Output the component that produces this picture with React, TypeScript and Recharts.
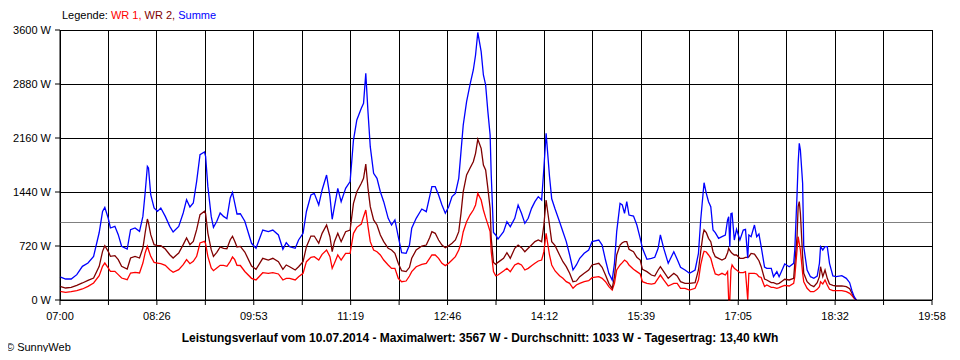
import { LineChart, Line, XAxis, YAxis, CartesianGrid, ReferenceLine } from "recharts"

// readings, roughly every 3-5 minutes
const times = [
  "07:00", "07:05", "07:10", "07:15", "07:20", "07:25", "07:30", "07:35", "07:38", "07:40",
  "07:43", "07:45", "07:49", "07:52", "07:55", "08:00", "08:03", "08:07", "08:11", "08:14",
  "08:16", "08:18", "08:19", "08:21", "08:24", "08:27", "08:30", "08:34", "08:38", "08:41",
  "08:46", "08:50", "08:53", "08:56", "08:59", "09:02", "09:05", "09:09", "09:10", "09:12",
  "09:15", "09:17", "09:20", "09:23", "09:26", "09:29", "09:32", "09:34", "09:36", "09:38",
  "09:41", "09:45", "09:51", "09:55", "10:01", "10:06", "10:10", "10:15", "10:19", "10:22",
  "10:25", "10:30", "10:33", "10:37", "10:40", "10:44", "10:47", "10:51", "10:54", "10:58",
  "11:01", "11:03", "11:05", "11:08", "11:11", "11:15", "11:19", "11:22", "11:25", "11:29",
  "11:31", "11:33", "11:35", "11:37", "11:40", "11:43", "11:46", "11:49", "11:53", "11:56",
  "11:59", "12:02", "12:05", "12:09", "12:12", "12:14", "12:18", "12:23", "12:27", "12:30",
  "12:32", "12:35", "12:38", "12:41", "12:44", "12:47", "12:50", "12:53", "12:56", "12:58",
  "13:00", "13:03", "13:06", "13:09", "13:11", "13:13", "13:16", "13:18", "13:20", "13:22",
  "13:24", "13:25", "13:27", "13:29", "13:31", "13:36", "13:39", "13:42", "13:46", "13:49",
  "13:52", "13:55", "13:58", "14:01", "14:04", "14:07", "14:10", "14:12", "14:14", "14:17",
  "14:19", "14:22", "14:26", "14:29", "14:32", "14:35", "14:38", "14:41", "14:44", "14:48",
  "14:52", "14:55", "15:01", "15:04", "15:07", "15:10", "15:13", "15:15", "15:17", "15:20",
  "15:22", "15:24", "15:26", "15:28", "15:32", "15:35", "15:38", "15:40", "15:44", "15:48",
  "15:51", "15:54", "15:56", "15:59", "16:03", "16:08", "16:11", "16:14", "16:18", "16:22",
  "16:27", "16:30", "16:32", "16:34", "16:35", "16:37", "16:39", "16:41", "16:43", "16:45",
  "16:48", "16:51", "16:54", "16:56", "16:57", "16:58", "16:59", "17:00", "17:02", "17:04",
  "17:07", "17:10", "17:12", "17:14", "17:15", "17:17", "17:20", "17:22", "17:24", "17:26",
  "17:29", "17:31", "17:35", "17:37", "17:40", "17:42", "17:44", "17:47", "17:51", "17:55",
  "17:56", "17:58", "17:59", "18:00", "18:01", "18:03", "18:04", "18:07", "18:10", "18:13",
  "18:16", "18:18", "18:19", "18:21", "18:23", "18:25", "18:27", "18:30", "18:33", "18:38",
  "18:42", "18:45", "18:47", "18:49", "18:51",
]

const wr1 = [
  116, 102, 111, 124, 147, 182, 227, 324, 449, 493,
  427, 382, 382, 338, 293, 271, 360, 369, 360, 493,
  627, 715, 671, 582, 502, 493, 484, 462, 404, 369,
  404, 471, 538, 484, 516, 582, 760, 782, 751, 582,
  427, 391, 427, 462, 462, 449, 516, 573, 538, 462,
  460, 380, 289, 267, 364, 356, 364, 347, 267, 289,
  289, 267, 311, 356, 511, 569, 578, 533, 609, 667,
  578, 422, 489, 600, 533, 622, 622, 889, 969, 1013,
  1111, 1200, 978, 778, 667, 644, 600, 533, 467, 422,
  422, 289, 244, 253, 320, 378, 444, 476, 489, 556,
  600, 600, 556, 489, 458, 489, 533, 578, 667, 756,
  911, 1044, 1133, 1200, 1267, 1422, 1333, 1200, 1098, 1009,
  911, 644, 380, 324, 333, 387, 422, 378, 467, 489,
  467, 400, 422, 458, 489, 520, 533, 644, 889, 600,
  467, 387, 324, 289, 244, 222, 156, 200, 222, 244,
  258, 298, 311, 289, 244, 178, 133, 222, 400, 467,
  498, 533, 511, 467, 409, 378, 347, 244, 222, 213,
  222, 289, 333, 267, 187, 222, 222, 156, 156, 133,
  156, 267, 467, 600, 650, 640, 600, 556, 444, 347,
  333, 356, 333, 378, 0, 0, 400, 467, 422, 400,
  364, 364, 378, 0, 356, 356, 356, 347, 311, 300,
  180, 200, 169, 169, 156, 164, 178, 196, 187, 222,
  311, 667, 844, 756, 667, 356, 244, 156, 111, 111,
  142, 178, 244, 213, 267, 200, 142, 124, 124, 124,
  111, 89, 58, 22, 0,
]

const wr2 = [
  182, 160, 169, 196, 227, 262, 293, 449, 649, 724,
  649, 582, 591, 538, 449, 413, 560, 582, 560, 693,
  893, 1080, 1027, 871, 738, 724, 724, 680, 604, 560,
  627, 738, 827, 738, 782, 938, 1138, 1182, 1151, 893,
  671, 582, 636, 707, 689, 684, 804, 849, 782, 707,
  715, 640, 453, 409, 556, 533, 556, 511, 409, 467,
  444, 400, 444, 511, 711, 853, 853, 756, 889, 1000,
  844, 644, 778, 889, 778, 911, 933, 1289, 1444, 1556,
  1622, 1813, 1489, 1244, 1067, 1000, 867, 778, 689, 667,
  622, 489, 391, 378, 436, 556, 667, 720, 733, 831,
  911, 889, 800, 733, 698, 724, 756, 800, 911, 1156,
  1444, 1667, 1756, 1844, 1956, 2142, 2022, 1800, 1733, 1489,
  1222, 822, 500, 476, 502, 556, 631, 556, 689, 733,
  698, 644, 689, 733, 778, 800, 778, 1000, 1333, 1000,
  778, 724, 600, 511, 444, 356, 244, 253, 311, 356,
  400, 467, 489, 436, 333, 222, 156, 311, 600, 733,
  764, 778, 778, 676, 644, 569, 533, 409, 378, 333,
  320, 400, 444, 378, 289, 356, 320, 244, 222, 222,
  231, 400, 644, 867, 933, 898, 822, 778, 644, 578,
  556, 533, 556, 631, 689, 660, 640, 622, 600, 600,
  556, 556, 569, 569, 578, 622, 613, 569, 524, 444,
  280, 267, 231, 231, 213, 222, 244, 276, 267, 289,
  489, 844, 1244, 1311, 1156, 578, 356, 244, 200, 178,
  231, 311, 444, 311, 400, 289, 213, 196, 187, 187,
  178, 151, 89, 31, 0,
]

const summe = [
  307, 280, 280, 338, 449, 493, 582, 900, 1182, 1235,
  1093, 960, 982, 871, 716, 680, 938, 960, 915, 1115,
  1427, 1782, 1760, 1404, 1227, 1182, 1227, 1115, 982, 907,
  982, 1160, 1338, 1240, 1293, 1582, 1938, 1973, 1915, 1515,
  1115, 969, 1049, 1160, 1115, 1084, 1360, 1435, 1293, 1147,
  1150, 1050, 756, 689, 933, 911, 933, 867, 676, 764,
  711, 689, 800, 889, 1180, 1400, 1422, 1267, 1467, 1667,
  1378, 1076, 1244, 1489, 1311, 1489, 1578, 2133, 2400, 2556,
  2622, 3022, 2500, 2044, 1689, 1622, 1444, 1311, 1089, 1000,
  1067, 844, 631, 622, 733, 956, 1089, 1213, 1178, 1378,
  1511, 1511, 1400, 1267, 1156, 1244, 1378, 1422, 1622, 1978,
  2333, 2644, 2867, 3067, 3267, 3567, 3311, 3000, 2867, 2511,
  2200, 1667, 900, 867, 813, 911, 1044, 978, 1089, 1267,
  1156, 1022, 1089, 1222, 1311, 1378, 1333, 1756, 2222, 1650,
  1350, 1213, 1044, 911, 778, 600, 400, 467, 556, 622,
  667, 778, 800, 733, 533, 356, 267, 489, 911, 1289,
  1267, 1156, 1311, 1133, 1120, 1000, 822, 689, 542, 556,
  569, 689, 867, 689, 489, 644, 542, 436, 400, 356,
  400, 622, 1067, 1400, 1564, 1422, 1311, 1244, 933, 898,
  822, 844, 867, 1067, 1111, 711, 1150, 1156, 800, 942,
  800, 933, 942, 556, 867, 844, 1000, 844, 880, 711,
  440, 422, 422, 311, 378, 311, 378, 480, 444, 489,
  667, 1400, 1822, 2089, 2000, 1556, 711, 400, 311, 289,
  320, 489, 711, 667, 711, 711, 489, 320, 311, 324,
  289, 231, 124, 44, 0,
]

const tickLabels = ["07:00", "08:26", "09:53", "11:19", "12:46", "14:12", "15:39", "17:05", "18:32", "19:58"]
const yTicks = [0, 720, 1440, 2160, 2880, 3600]
const average = 1033

const START = 420
const STEP = 43.25 // half of the labelled interval
const xTicks = Array.from({ length: 19 }, (_, i) => START + i * STEP)

const toMin = (s: string) => {
  const [h, m] = s.split(":").map(Number)
  return h * 60 + m
}

const data = times.map((t, i) => ({
  t: toMin(t),
  wr1: wr1[i],
  wr2: wr2[i],
  summe: summe[i],
}))

const font = "'Liberation Sans', Arial, sans-serif"
const tickStyle = { fontFamily: font, fontSize: 11, fill: "#000" }

export default function App() {
  return (
    <div style={{ position: "relative", width: 944, height: 344, fontFamily: font, background: "#fff" }}>
      <div style={{ position: "absolute", left: 54, top: 1, fontSize: 11, lineHeight: "13px", whiteSpace: "pre" }}>
        <span style={{ color: "#000" }}>Legende: </span>
        <span style={{ color: "#ff0000" }}>WR 1, </span>
        <span style={{ color: "#800000" }}>WR 2, </span>
        <span style={{ color: "#0000ff" }}>Summe</span>
      </div>
      <LineChart width={944} height={344} data={data} margin={{ top: 22, right: 20, bottom: 22, left: 0 }}>
        <CartesianGrid stroke="#000" strokeOpacity={1} shapeRendering="crispEdges" />
        <XAxis
          dataKey="t"
          type="number"
          domain={[START, START + 18 * STEP]}
          ticks={xTicks}
          interval={0}
          height={30}
          tickSize={5}
          tickMargin={7}
          axisLine={{ stroke: "#000" }}
          tickLine={{ stroke: "#000" }}
          tick={tickStyle}
          tickFormatter={(_v: number, i: number) => (i % 2 === 0 ? tickLabels[i / 2] : "")}
        />
        <YAxis
          domain={[0, 3600]}
          ticks={yTicks}
          interval={0}
          width={52}
          tickSize={5}
          tickMargin={4}
          axisLine={{ stroke: "#000" }}
          tickLine={{ stroke: "#000" }}
          tick={tickStyle}
          tickFormatter={(v: number) => `${v} W`}
        />
        <ReferenceLine y={average} stroke="#808080" shapeRendering="crispEdges" />
        <Line type="linear" dataKey="wr1" stroke="#ff0000" strokeWidth={1.3} dot={false} isAnimationActive={false} />
        <Line type="linear" dataKey="wr2" stroke="#800000" strokeWidth={1.3} dot={false} isAnimationActive={false} />
        <Line type="linear" dataKey="summe" stroke="#0000ff" strokeWidth={1.3} dot={false} isAnimationActive={false} />
      </LineChart>
      <div
        style={{
          position: "absolute",
          left: 0,
          width: 944,
          top: 323,
          textAlign: "center",
          fontSize: 12,
          fontWeight: "bold",
          lineHeight: "14px",
        }}
      >
        Leistungsverlauf vom 10.07.2014 - Maximalwert: 3567 W - Durchschnitt: 1033 W - Tagesertrag: 13,40 kWh
      </div>
      <div style={{ position: "absolute", left: -2, top: 333, fontSize: 11, lineHeight: "13px" }}>© SunnyWeb</div>
    </div>
  )
}
